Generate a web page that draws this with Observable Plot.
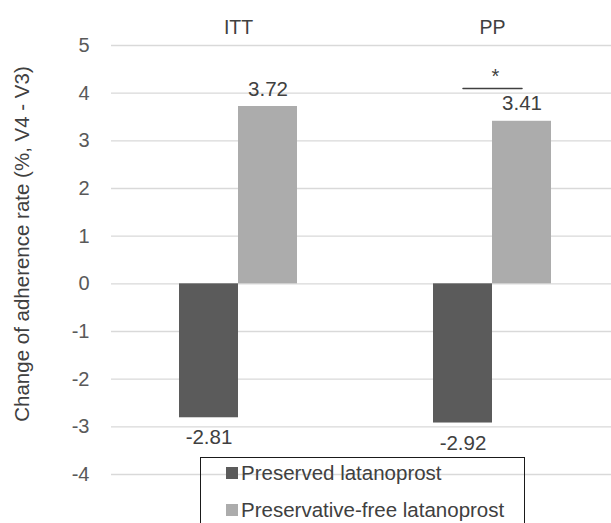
<!DOCTYPE html>
<html>
<head>
<meta charset="utf-8">
<script src="https://cdn.jsdelivr.net/npm/d3@7"></script>
<script src="https://cdn.jsdelivr.net/npm/@observablehq/plot@0.6"></script>
<style>
  html, body { margin: 0; padding: 0; background: #fff; overflow: hidden; }
  #wrap { position: relative; width: 611px; height: 523px; overflow: hidden;
          font-family: "Liberation Sans", Arial, sans-serif; }
  #ytitle { position: absolute; left: 22px; top: 244px; white-space: nowrap;
            transform: translate(-50%, -50%) rotate(-90deg);
            font-size: 20.5px; color: #404040; }
  #legend { position: absolute; left: 200px; top: 457px; width: 325px; height: 90px;
            box-sizing: border-box; border: 1px solid #1a1a1a; background: transparent; }
  .item { position: absolute; left: 25px; height: 24px; margin-top: -12px;
          display: flex; align-items: center; font-size: 20.5px; color: #404040; white-space: nowrap; }
  .sw { width: 12px; height: 12px; margin-right: 3px; }
</style>
</head>
<body>
<div id="wrap">
  <div id="chart"></div>
  <div id="ytitle"></div>
  <div id="legend"></div>
</div>
<script>
// ---- data ----
const groups = ["ITT", "PP"];
const series = ["Preserved latanoprost", "Preservative-free latanoprost"];
const preservedValues = [-2.81, -2.92];
const preservativeFreeValues = [3.72, 3.41];
const yTicks = [-4, -3, -2, -1, 0, 1, 2, 3, 4, 5];
const seriesColors = ["#5b5b5b", "#acacac"];
const yTitle = "Change of adherence rate (%, V4 - V3)";
const sigGroup = "PP";
const sigLevel = 4.1;
const sigLabel = "*";

// ---- table built from arrays ----
const data = groups.flatMap((g, i) => [
  {group: g, series: series[0], value: preservedValues[i]},
  {group: g, series: series[1], value: preservativeFreeValues[i]}
]);
const sigLine = series.map(s => ({group: sigGroup, series: s, y: sigLevel}));
const sigText = [{group: sigGroup, y: sigLevel, label: sigLabel}];

const chart = Plot.plot({
  width: 611,
  height: 523,
  marginTop: 45,
  marginBottom: 49,
  marginLeft: 111,
  marginRight: -8,
  style: {fontFamily: "'Liberation Sans', Arial, sans-serif", background: "transparent", overflow: "visible"},
  fx: {domain: groups, padding: 0, label: null},
  x: {domain: series, paddingInner: 0, paddingOuter: 1.117, axis: null},
  y: {domain: [-4, 5], label: null},
  color: {domain: series, range: seriesColors},
  marks: [
    Plot.gridY(yTicks, {stroke: "#d9d9d9", strokeOpacity: 1, strokeWidth: 1.3}),
    Plot.axisY(yTicks, {tickSize: 0, tickPadding: 22, fontSize: 20, fill: "#595959",
                        tickFormat: d => String(d), label: null}),
    Plot.axisFx({anchor: "top", tickSize: 0, tickPadding: 12, fontSize: 19.5, fill: "#404040", label: null}),
    Plot.barY(data, {fx: "group", x: "series", y: "value", fill: "series"}),
    Plot.text(data.filter(d => d.value >= 0), {fx: "group", x: "series", y: "value",
      text: d => d.value.toFixed(2), dy: -17.5, fontSize: 20.5, fill: "#404040"}),
    Plot.text(data.filter(d => d.value < 0), {fx: "group", x: "series", y: "value",
      text: d => d.value.toFixed(2), dy: 20, fontSize: 20.5, fill: "#404040"}),
    Plot.line(sigLine, {fx: "group", x: "series", y: "y", stroke: "#404040", strokeWidth: 1.5}),
    Plot.text(sigText, {fx: "group", y: "y", text: "label", frameAnchor: "middle", dx: 3, dy: -12,
      fontSize: 20, fill: "#404040"})
  ]
});
document.getElementById("chart").appendChild(chart);

document.getElementById("ytitle").textContent = yTitle;

const legend = document.getElementById("legend");
const rowCenters = [15, 52];
series.forEach((s, i) => {
  const item = document.createElement("div");
  item.className = "item";
  item.style.top = rowCenters[i] + "px";
  const sw = document.createElement("span");
  sw.className = "sw";
  sw.style.background = seriesColors[i];
  const label = document.createElement("span");
  label.textContent = s;
  item.appendChild(sw);
  item.appendChild(label);
  legend.appendChild(item);
});
</script>
</body>
</html>
